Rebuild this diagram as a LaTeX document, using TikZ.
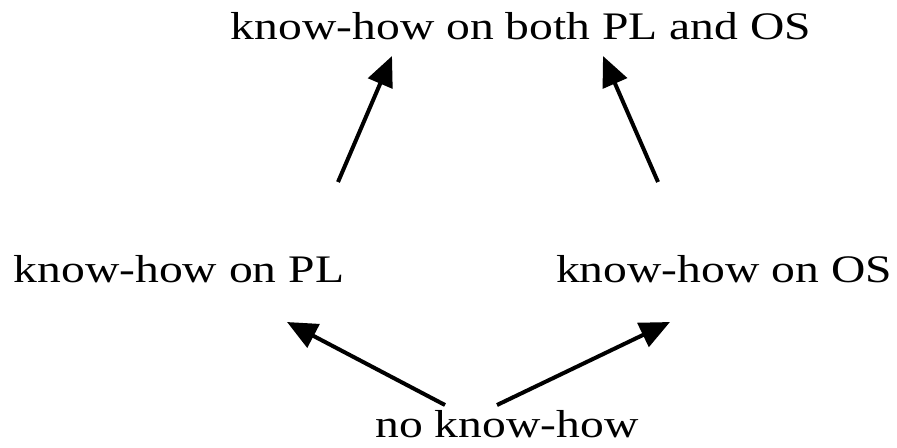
\documentclass[tikz,border=0pt]{standalone}
\usepackage{fontspec}
\setmainfont{Liberation Serif}
\usetikzlibrary{arrows.meta}

\begin{document}
\begin{tikzpicture}[x=1pt,y=1pt]
\tikzstyle{txt}=[inner sep=0pt, anchor=base, text depth=0pt, xscale=1.22, transform shape, font=\fontsize{19.5}{23}\selectfont]
\tikzstyle{arr}=[line width=2pt, -{Triangle[length=15pt,width=13pt]}]
\useasboundingbox (0,0) rectangle (448.5,223.5);

\node[txt] (both) at (260.5,204) {know-how on both PL and OS};
\node[txt] (pl) at (89.5,82.5) {know-how on PL};
\node[txt] (os) at (362,82.5) {know-how on OS};
\node[txt] (none) at (253.5,5) {no know-how};

\draw[arr] ([shift={(79.5,50)}]pl.base) -- ([shift={(-64.5,-8.5)}]both.base);
\draw[arr] ([shift={(-33,50)}]os.base) -- ([shift={(41,-8.5)}]both.base);
\draw[arr] ([shift={(-31,16)}]none.base) -- ([shift={(54,-20)}]pl.base);
\draw[arr] ([shift={(-5,16)}]none.base) -- ([shift={(-27,-20)}]os.base);
  \end{tikzpicture}
\end{document}
